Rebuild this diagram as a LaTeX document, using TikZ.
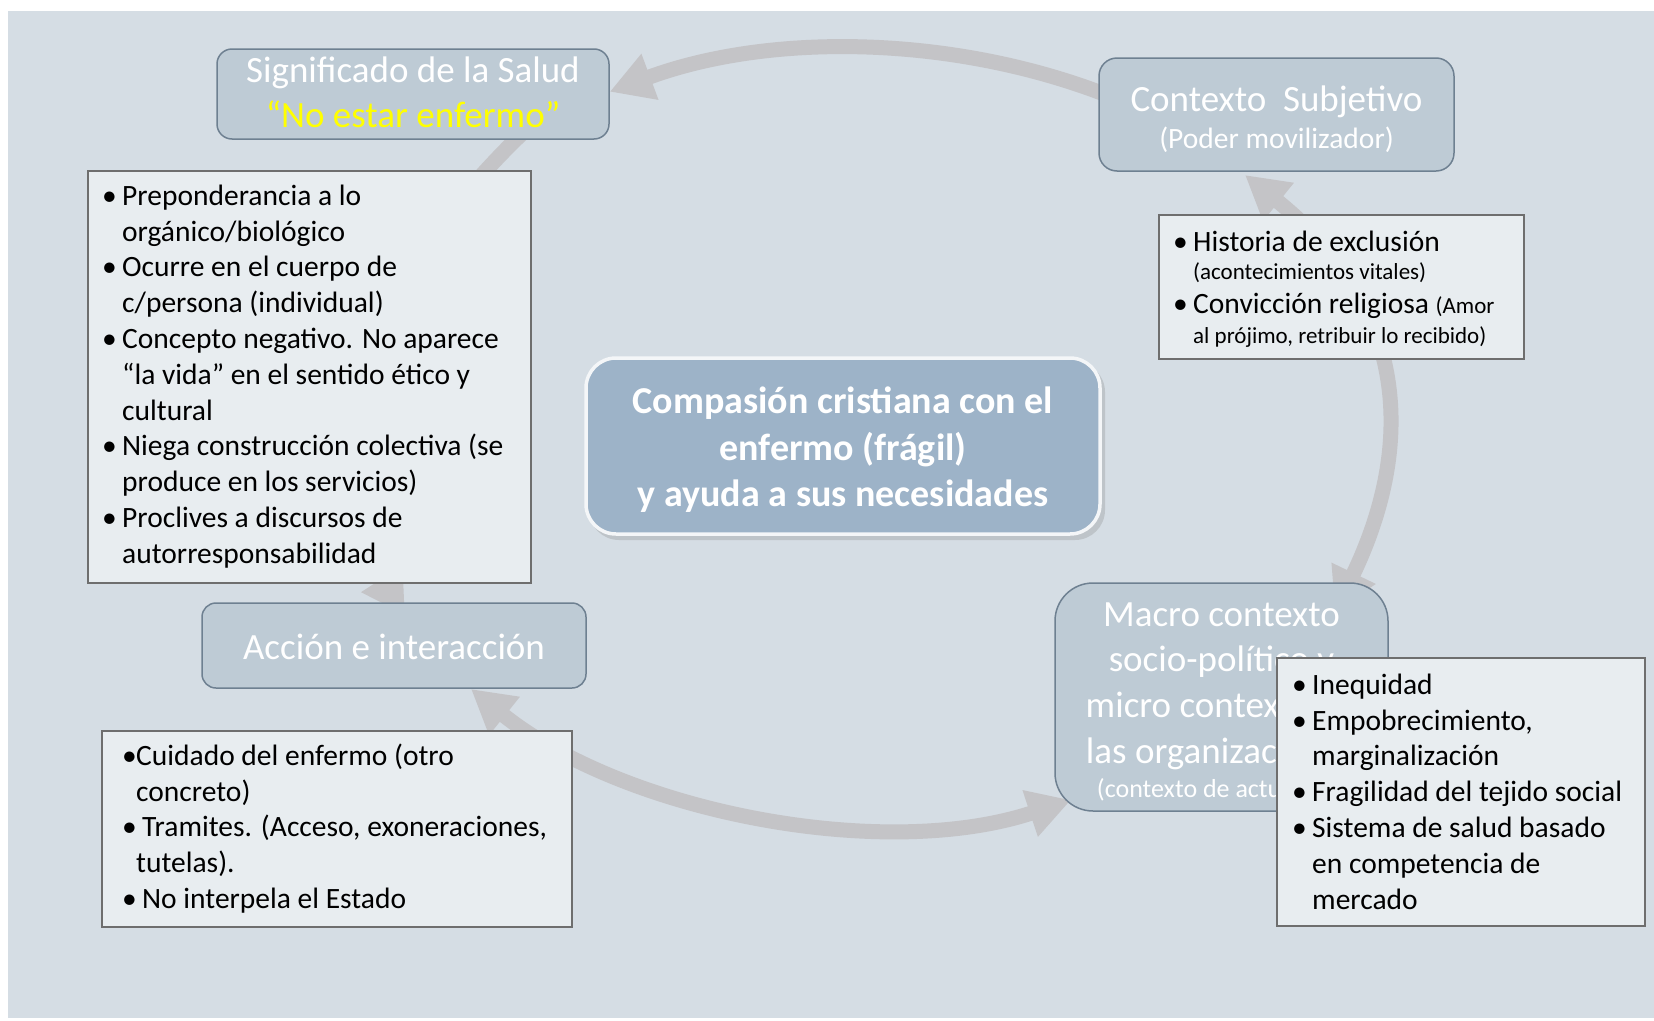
\documentclass[tikz,border=0pt]{standalone}
\usepackage{fontspec}
\setmainfont{Carlito}
\usetikzlibrary{arrows.meta}
\definecolor{bgc}{HTML}{D5DDE4}
\definecolor{graybox}{HTML}{BECBD5}
\definecolor{grayedge}{HTML}{6E8091}
\definecolor{listfill}{HTML}{E8EDF0}
\definecolor{listedge}{HTML}{6E6E6E}
\definecolor{arrowc}{HTML}{C4C4C7}
\definecolor{centerfill}{HTML}{9DB3C8}
\definecolor{hiyellow}{HTML}{FFFF00}
\newcommand\lbul[1][20pt]{\makebox[#1][l]{•}}
\newcommand\lind[1][20pt]{\hspace*{#1}}
\begin{document}
\begin{tikzpicture}[x=1pt,y=-1pt,
  titlebox/.style={draw=grayedge, line width=1.5pt, fill=graybox, inner sep=0pt},
  titletext/.style={text=white, align=center, inner sep=0pt, font=\fontsize{37}{45}\selectfont},
  listbox/.style={draw=listedge, line width=1.5pt, fill=listfill, inner sep=0pt},
  listtext/.style={anchor=north west, inner sep=0pt, align=left, text=black, font=\fontsize{29.5}{35.8}\selectfont},
  cyc/.style={draw=arrowc, line width=15pt},
  onehead/.style={-{Triangle[width=46pt,length=43pt]}},
  twohead/.style={{Triangle[width=46pt,length=43pt]}-{Triangle[width=46pt,length=43pt]}}
]
\useasboundingbox (0,0) rectangle (1654,1020);
\fill[white] (0,0) rectangle (1654,1020);
\fill[bgc] (8,11) rectangle (1654,1018);

% connector end points
\coordinate (topS) at (1139,108.6);
\coordinate (leftS) at (530,126);
\coordinate (leftE) at (405,615);
\coordinate (botS) at (471,689);
\coordinate (botE) at (1071,800);
\coordinate (rightS) at (1335,612);
\coordinate (rightE) at (1245,175);

% cycle arrows
\draw[cyc,onehead] (topS) arc[start angle=-58,end angle=-117,x radius=538,y radius=392];
\draw[cyc,onehead] (leftS) .. controls (384,262) and (297,447) .. (leftE);
\draw[cyc,twohead] (botS) .. controls (624,812) and (883,862) .. (botE);
\draw[cyc,twohead] (rightS) .. controls (1412,452) and (1414,311) .. (rightE);

% title boxes
\node[titlebox, rounded corners=15pt, minimum width=392pt, minimum height=90pt] (sigbox) at (413,94) {};
\node[titletext, anchor=north] (sig) at (413,52) {\rule{0pt}{30pt}Significado de la Salud\\\textcolor{hiyellow}{“No estar enfermo”}};

\node[titlebox, rounded corners=18pt, minimum width=355pt, minimum height=113pt] (ctxbox) at (1276.5,114.5) {};
\node[titletext, anchor=north, font=\fontsize{37}{37}\selectfont] (ctx) at (1276.5,81) {\rule{0pt}{30pt}Contexto\ \ Subjetivo\\{\fontsize{29.5}{30}\selectfont(Poder movilizador)}};

\node[titlebox, rounded corners=14pt, minimum width=384pt, minimum height=85pt] (accbox) at (394,645.5) {};
\node[titletext, anchor=base] (acc) at (394,659) {Acción e interacción};

\node[titlebox, rounded corners=38pt, minimum width=333pt, minimum height=228pt] (macbox) at (1221.5,697) {};
\node[titletext, anchor=north, font=\fontsize{37}{45.7}\selectfont] (mac) at (1221.5,596) {\rule{0pt}{30pt}Macro contexto\\socio-político y\\micro contexto de\\las organizaciones\\[-11.7pt]{\fontsize{26}{30}\selectfont(contexto de actuación)}};

% central box
\fill[black!45, opacity=0.3, rounded corners=30pt] (589,362) rectangle (1105,540);
\node[draw=white!75!bgc, line width=3.5pt, fill=centerfill, rounded corners=30pt, minimum width=514pt, minimum height=176pt, inner sep=0pt] (centerbox) at (843,446) {};
\node[text=white, align=center, inner sep=0pt, font=\bfseries\fontsize{38}{46.5}\selectfont] (center) at (843,450) {Compasión cristiana con el\\enfermo (frágil)\\y ayuda a sus necesidades};

% list boxes
\node[listbox, minimum width=443pt, minimum height=412pt] (boxA) at (309.5,377) {};
\node[listtext] (listA) at (102,179) {\rule{0pt}{26pt}\lbul Preponderancia a lo\\\lind orgánico/biológico\\\lbul Ocurre en el cuerpo de\\\lind c/persona (individual)\\\lbul Concepto negativo. No aparece\\\lind “la vida” en el sentido ético y\\\lind cultural\\\lbul Niega construcción colectiva (se\\\lind produce en los servicios)\\\lbul Proclives a discursos de\\\lind autorresponsabilidad};

\node[listbox, minimum width=365pt, minimum height=144pt] (boxB) at (1341.5,287) {};
\node[listtext, font=\fontsize{29.5}{28}\selectfont] (listB) at (1173,225) {\rule{0pt}{26pt}\lbul Historia de exclusión\\\lind{\fontsize{23}{24}\selectfont(acontecimientos vitales)}\\[6pt]\lbul Convicción religiosa {\fontsize{23}{24}\selectfont(Amor}\\[2pt]\lind{\fontsize{23}{24}\selectfont al prójimo, retribuir lo recibido)}};

\node[listbox, minimum width=368pt, minimum height=268pt] (boxC) at (1461,792) {};
\node[listtext] (listC) at (1292,668) {\rule{0pt}{26pt}\lbul Inequidad\\\lbul Empobrecimiento,\\\lind marginalización\\\lbul Fragilidad del tejido social\\\lbul Sistema de salud basado\\\lind en competencia de\\\lind mercado};

\node[listbox, minimum width=470pt, minimum height=196pt] (boxD) at (337,829) {};
\node[listtext] (listD) at (122,739) {\rule{0pt}{26pt}\lbul[14pt]Cuidado del enfermo (otro\\\lind[14pt]concreto)\\\lbul Tramites. (Acceso, exoneraciones,\\\lind[14pt]tutelas).\\\lbul No interpela el Estado};
\end{tikzpicture}
\end{document}
